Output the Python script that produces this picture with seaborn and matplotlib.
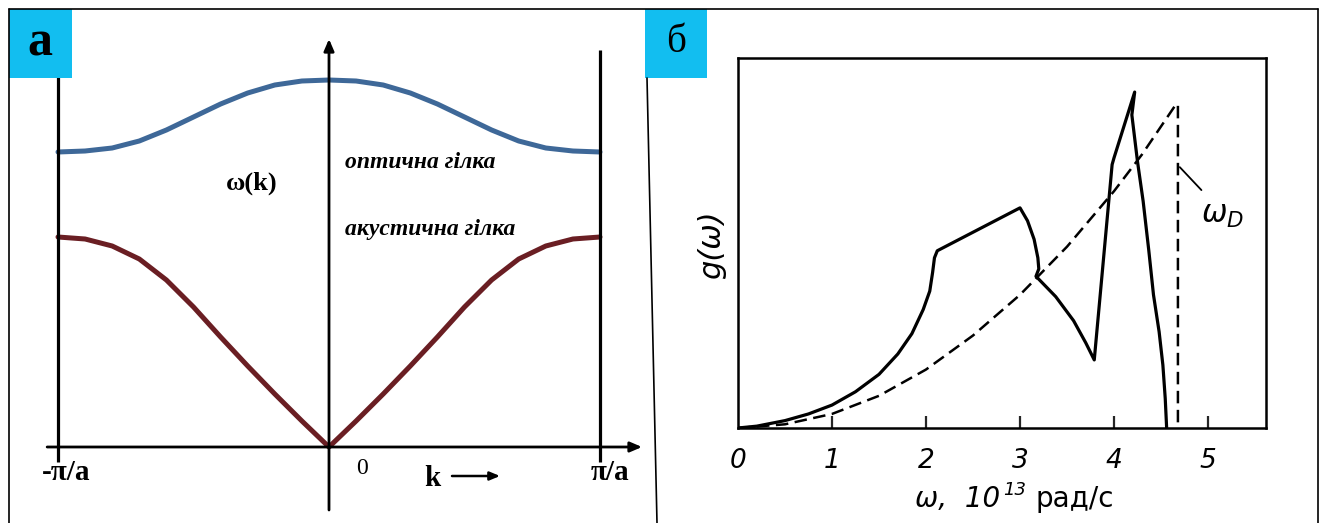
import matplotlib
matplotlib.use("Agg")
import matplotlib.pyplot as plt
from matplotlib.patches import Rectangle
import pandas as pd
import seaborn as sns

# ---------- panel а: dispersion of a diatomic chain ----------
# wave vector in units of pi/a
k_vals = [-1.0, -0.9, -0.8, -0.7, -0.6, -0.5, -0.4, -0.3, -0.2, -0.1, 0.0,
          0.1, 0.2, 0.3, 0.4, 0.5, 0.6, 0.7, 0.8, 0.9, 1.0]
omega_optical = [2.95, 2.96, 2.99, 3.06, 3.17, 3.30, 3.43, 3.54, 3.62, 3.66, 3.67,
                 3.66, 3.62, 3.54, 3.43, 3.30, 3.17, 3.06, 2.99, 2.96, 2.95]
omega_acoustic = [2.10, 2.08, 2.01, 1.88, 1.67, 1.40, 1.10, 0.81, 0.53, 0.26, 0.0,
                  0.26, 0.53, 0.81, 1.10, 1.40, 1.67, 1.88, 2.01, 2.08, 2.10]
k_tick_labels = ["-π/a", "0", "π/a"]

# ---------- panel б: phonon density of states ----------
omega_real = [0.0, 0.2, 0.5, 0.75, 1.0, 1.25, 1.5, 1.7, 1.85, 1.97, 2.04, 2.07, 2.09,
              2.12, 3.0, 3.08, 3.15, 3.19, 3.20, 3.17, 3.38, 3.57, 3.70, 3.79,
              3.98, 4.0, 4.22, 4.19, 4.25, 4.31, 4.37, 4.42, 4.48, 4.52, 4.545, 4.56]
g_real = [0.0, 0.005, 0.02, 0.038, 0.062, 0.098, 0.145, 0.2, 0.255, 0.32, 0.37, 0.42, 0.46,
          0.479, 0.595, 0.56, 0.51, 0.46, 0.43, 0.41, 0.355, 0.29, 0.23, 0.184,
          0.712, 0.73, 0.908, 0.846, 0.72, 0.613, 0.48, 0.36, 0.26, 0.17, 0.08, 0.0]
omega_debye = [0.0, 0.5, 1.0, 1.5, 2.0, 2.5, 3.0, 3.5, 4.0, 4.3, 4.66, 4.68, 4.68]
g_debye = [0.0, 0.010, 0.038, 0.087, 0.158, 0.25, 0.36, 0.49, 0.64, 0.74, 0.875, 0.875, 0.0]
omega_ticks = [0, 1, 2, 3, 4, 5]

W, H = 1324, 523
sns.set_style("white")
plt.rcParams["text.color"] = "black"
fig = plt.figure(figsize=(W / 100, H / 100), dpi=100)

SERIF = "Liberation Serif"
BLUE = "#3e6898"
RED = "#6a1e23"
CYAN = "#12bef0"


def frac(x0, y0, x1, y1):
    """figure-fraction rectangle from pixel corners (top-left origin)"""
    return [x0 / W, 1 - y1 / H, (x1 - x0) / W, (y1 - y0) / H]


ARROW = dict(arrowstyle="-|>,head_length=0.7,head_width=0.3",
             lw=2.0, color="black", shrinkA=0, shrinkB=0)

# ---------------- panel а ----------------
axL = fig.add_axes(frac(58, 47, 600, 447))
axL.set_xlim(-1, 1)
axL.set_ylim(0, 4.0)
axL.axis("off")

disp = pd.DataFrame({"k": k_vals, "opt": omega_optical, "ac": omega_acoustic})
sns.lineplot(data=disp, x="k", y="opt", ax=axL, color=BLUE, lw=3.6,
             estimator=None, sort=False, clip_on=False)
sns.lineplot(data=disp, x="k", y="ac", ax=axL, color=RED, lw=3.6,
             estimator=None, sort=False, clip_on=False)

# Brillouin zone boundaries
for kb in (-1, 1):
    axL.plot([kb, kb], [-0.15, 3.97], color="black", lw=2.3, clip_on=False,
             solid_capstyle="butt")
# axes with arrows
axL.annotate("", xy=(0, 4.08), xytext=(0, -0.63), arrowprops=ARROW,
             annotation_clip=False)
axL.annotate("", xy=(1.155, 0), xytext=(-1.04, 0), arrowprops=ARROW,
             annotation_clip=False)

# ---------------- panel б ----------------
axR = fig.add_axes(frac(738, 58, 1266, 428))
axR.set_xlim(0, 5.617)
axR.set_ylim(0, 1)
sns.lineplot(x=omega_real, y=g_real, ax=axR, color="black", lw=2.3,
             estimator=None, sort=False)
sns.lineplot(x=omega_debye, y=g_debye, ax=axR, color="black", lw=1.8,
             estimator=None, sort=False, linestyle=(0, (5, 2.6)))
for s in axR.spines.values():
    s.set_visible(True)
    s.set_linewidth(1.8)
    s.set_color("black")
axR.set_xticks(omega_ticks[1:])
axR.set_xticklabels([])
axR.set_yticks([])
axR.tick_params(axis="x", direction="in", length=9, width=1.6, bottom=True)
for t in omega_ticks:
    axR.text(t, -0.09, str(t), ha="center", va="center", fontsize=19,
             fontstyle="italic", fontfamily="DejaVu Sans", color="black")
axR.set_xlabel("")
axR.set_ylabel("")
# Debye frequency marker
axR.plot([4.70, 4.93], [0.705, 0.643], color="black", lw=1.3)
axR.text(5.15, 0.575, r"$\omega_D$", fontsize=22, ha="center", va="center")

# ---------------- overlay: frames, labels ----------------
ov = fig.add_axes([0, 0, 1, 1], facecolor="none")
ov.set_xlim(0, W)
ov.set_ylim(H, 0)
ov.axis("off")
ov.set_zorder(10)

frame_kw = dict(color="black", lw=1.2)
ov.plot([9, 1318], [9, 9], **frame_kw)
ov.plot([9, 9], [9, 523], **frame_kw)
ov.plot([1318, 1318], [9, 523], **frame_kw)
ov.plot([647, 657], [78, 523], **frame_kw)

ov.add_patch(Rectangle((9, 9), 63, 69, color=CYAN, lw=0))
ov.add_patch(Rectangle((645, 9), 62, 69, color=CYAN, lw=0))
ov.text(40, 44, "а", fontsize=36, fontweight="bold", fontfamily=SERIF,
        ha="center", va="center")
ov.text(676, 43, "б", fontsize=28, fontfamily=SERIF, ha="center", va="center")

ov.text(345, 162, "оптична гілка", fontsize=17, fontweight="bold",
        fontstyle="italic", fontfamily=SERIF, ha="left", va="center")
ov.text(345, 229, "акустична гілка", fontsize=17, fontweight="bold",
        fontstyle="italic", fontfamily=SERIF, ha="left", va="center")
ov.text(252, 183, "ω(k)", fontsize=19, fontweight="bold", fontfamily=SERIF,
        ha="center", va="center")

ov.text(66, 473, k_tick_labels[0], fontsize=21, fontweight="bold",
        fontfamily=SERIF, ha="center", va="center")
ov.text(362, 468, k_tick_labels[1], fontsize=17, fontfamily=SERIF,
        ha="center", va="center")
ov.text(610, 472, k_tick_labels[2], fontsize=21, fontweight="bold",
        fontfamily=SERIF, ha="center", va="center")
ov.text(432, 478, "k", fontsize=21, fontweight="bold", fontfamily=SERIF,
        ha="center", va="center")
ov.annotate("", xy=(500, 476), xytext=(452, 476),
            arrowprops=dict(arrowstyle="-|>,head_length=0.6,head_width=0.25",
                            lw=1.8, color="black", shrinkA=0, shrinkB=0))

ov.text(712, 245, "g(ω)", fontsize=22, fontstyle="italic",
        fontfamily="DejaVu Sans", rotation=90, ha="center", va="center")
ov.text(1000, 499, "ω,  10", fontsize=20, fontstyle="italic",
        fontfamily="DejaVu Sans", ha="right", va="center")
ov.text(1003, 490, "13", fontsize=13, fontstyle="italic",
        fontfamily="DejaVu Sans", ha="left", va="center")
ov.text(1035, 499, "рад/с", fontsize=20, fontfamily="DejaVu Sans",
        ha="left", va="center")

fig.savefig("out.png", dpi=100)
